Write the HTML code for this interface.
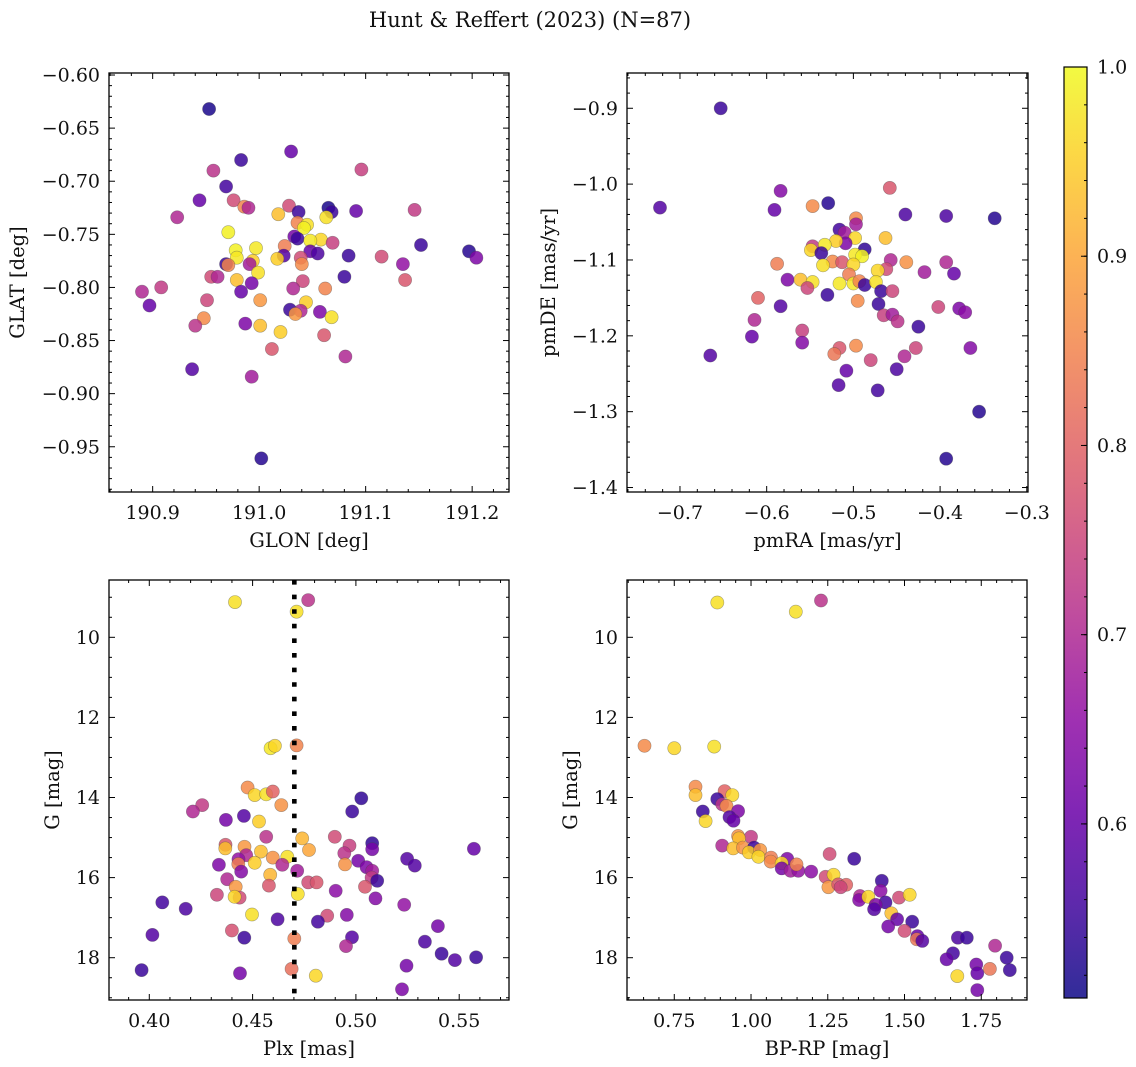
<!DOCTYPE html>
<html><head><meta charset="utf-8">
<style>
html,body{margin:0;padding:0;background:#fff;}
svg{display:block;font-family:"DejaVu Serif","Liberation Serif",serif;}
</style></head>
<body>
<svg id="fig" width="1136" height="1067" viewBox="0 0 1136 1067" xmlns="http://www.w3.org/2000/svg">
<rect width="1136" height="1067" fill="#fff"/>
<text x="530" y="27" text-anchor="middle" font-size="21" fill="#111">Hunt &amp; Reffert (2023) (N=87)</text>
<defs>
<linearGradient id="plasma" x1="0" y1="1" x2="0" y2="0"></linearGradient>
</defs>
</svg>
<script>
// ---------- data ----------
const glon = [190.953,191.030,190.983,190.957,191.096,190.969,190.944,190.976,190.986,190.990,191.028,191.037,191.065,191.068,191.091,191.146,190.923,191.018,191.063,191.036,191.045,191.042,190.971,191.033,191.036,191.058,191.048,191.069,191.024,190.978,190.997,191.152,191.197,191.204,191.084,191.048,191.055,191.023,191.017,191.039,191.040,191.115,191.135,190.979,190.994,190.969,190.971,190.991,190.999,190.955,190.961,190.979,190.993,191.041,191.080,191.137,190.890,190.908,190.983,191.032,191.062,190.897,190.951,191.001,191.044,191.029,191.039,191.034,191.057,191.068,190.948,190.940,190.987,191.001,191.020,191.012,191.061,191.081,190.937,190.993,191.002];
const glat = [-0.632,-0.672,-0.680,-0.690,-0.689,-0.705,-0.718,-0.718,-0.724,-0.725,-0.723,-0.729,-0.725,-0.729,-0.728,-0.727,-0.734,-0.731,-0.734,-0.739,-0.741,-0.744,-0.748,-0.752,-0.754,-0.755,-0.756,-0.758,-0.761,-0.765,-0.763,-0.760,-0.766,-0.772,-0.770,-0.766,-0.768,-0.770,-0.773,-0.772,-0.778,-0.771,-0.778,-0.772,-0.775,-0.778,-0.779,-0.778,-0.786,-0.790,-0.790,-0.793,-0.796,-0.794,-0.790,-0.793,-0.804,-0.800,-0.804,-0.801,-0.801,-0.817,-0.812,-0.812,-0.814,-0.821,-0.822,-0.825,-0.823,-0.828,-0.829,-0.836,-0.834,-0.836,-0.842,-0.858,-0.845,-0.865,-0.877,-0.884,-0.961];
const probSky = [0.52,0.60,0.55,0.72,0.74,0.56,0.60,0.76,0.85,0.70,0.76,0.55,0.52,0.55,0.60,0.73,0.70,0.93,0.97,0.85,0.97,0.99,0.99,0.62,0.55,0.96,0.98,0.74,0.84,0.99,0.98,0.55,0.53,0.63,0.55,0.60,0.57,0.58,0.95,0.76,0.86,0.76,0.66,0.98,0.95,0.55,0.85,0.68,0.97,0.76,0.70,0.93,0.62,0.75,0.55,0.78,0.70,0.73,0.60,0.70,0.85,0.60,0.75,0.88,0.95,0.55,0.70,0.88,0.63,0.97,0.86,0.72,0.63,0.93,0.95,0.78,0.78,0.70,0.58,0.68,0.53];

const pmra = [-0.653,-0.723,-0.584,-0.591,-0.547,-0.529,-0.458,-0.440,-0.393,-0.337,-0.497,-0.497,-0.516,-0.510,-0.498,-0.463,-0.509,-0.520,-0.547,-0.533,-0.549,-0.537,-0.487,-0.498,-0.490,-0.524,-0.513,-0.588,-0.535,-0.500,-0.457,-0.439,-0.393,-0.418,-0.384,-0.462,-0.472,-0.505,-0.576,-0.561,-0.547,-0.553,-0.516,-0.500,-0.493,-0.487,-0.474,-0.468,-0.455,-0.530,-0.495,-0.610,-0.584,-0.471,-0.402,-0.378,-0.371,-0.465,-0.455,-0.449,-0.614,-0.425,-0.617,-0.559,-0.559,-0.665,-0.516,-0.522,-0.497,-0.428,-0.365,-0.441,-0.480,-0.508,-0.450,-0.517,-0.472,-0.355,-0.393];
const pmde = [-0.900,-1.031,-1.009,-1.034,-1.029,-1.025,-1.005,-1.040,-1.042,-1.045,-1.045,-1.053,-1.060,-1.064,-1.071,-1.071,-1.078,-1.075,-1.082,-1.080,-1.087,-1.091,-1.086,-1.093,-1.095,-1.102,-1.103,-1.105,-1.107,-1.106,-1.100,-1.103,-1.103,-1.116,-1.118,-1.112,-1.114,-1.119,-1.126,-1.126,-1.129,-1.137,-1.131,-1.131,-1.128,-1.133,-1.129,-1.141,-1.141,-1.146,-1.154,-1.150,-1.161,-1.158,-1.162,-1.164,-1.169,-1.173,-1.172,-1.181,-1.179,-1.188,-1.201,-1.193,-1.209,-1.226,-1.216,-1.224,-1.213,-1.216,-1.216,-1.227,-1.232,-1.246,-1.244,-1.265,-1.272,-1.300,-1.362];
const probPm = [0.55,0.58,0.64,0.60,0.86,0.53,0.78,0.57,0.57,0.53,0.86,0.68,0.56,0.68,0.96,0.93,0.63,0.95,0.73,0.98,0.96,0.55,0.54,0.98,0.99,0.86,0.78,0.84,0.97,0.96,0.70,0.87,0.70,0.68,0.60,0.76,0.96,0.84,0.63,0.93,0.97,0.75,0.98,0.98,0.85,0.55,0.97,0.55,0.75,0.55,0.86,0.80,0.58,0.55,0.75,0.63,0.65,0.74,0.68,0.72,0.70,0.55,0.60,0.74,0.64,0.58,0.78,0.83,0.86,0.75,0.64,0.70,0.75,0.60,0.57,0.58,0.56,0.53,0.53];

const plx = [0.4415,0.4769,0.4713,0.4587,0.4608,0.4713,0.4476,0.4510,0.4566,0.4598,0.4639,0.5026,0.4982,0.4256,0.4211,0.4371,0.4458,0.4531,0.4566,0.4740,0.4773,0.4898,0.4969,0.5079,0.5079,0.4944,0.5571,0.4369,0.4368,0.4461,0.4540,0.4469,0.4598,0.4668,0.4432,0.4510,0.4431,0.4337,0.4644,0.4947,0.5011,0.5248,0.5285,0.4716,0.4445,0.5052,0.5079,0.5076,0.5103,0.4585,0.4377,0.4769,0.4810,0.4579,0.5044,0.4418,0.4719,0.4902,0.4327,0.4437,0.4413,0.5095,0.5234,0.4063,0.4176,0.4497,0.4861,0.4956,0.4621,0.4816,0.5397,0.4015,0.4400,0.4460,0.4702,0.4981,0.4952,0.5334,0.5415,0.5479,0.5582,0.5245,0.3963,0.4439,0.4689,0.4806,0.5223];
const gPlx = [9.12,9.07,9.36,12.77,12.71,12.70,13.75,13.94,13.92,13.85,14.19,14.02,14.35,14.19,14.35,14.56,14.46,14.60,14.98,15.02,15.31,14.98,15.20,15.14,15.29,15.39,15.28,15.18,15.27,15.23,15.35,15.44,15.50,15.48,15.54,15.63,15.66,15.68,15.68,15.67,15.58,15.53,15.70,15.83,15.85,15.74,15.83,16.00,16.08,15.93,16.04,16.12,16.12,16.20,16.23,16.23,16.41,16.33,16.43,16.50,16.48,16.52,16.68,16.62,16.78,16.92,16.95,16.93,17.04,17.10,17.21,17.43,17.32,17.50,17.52,17.49,17.71,17.60,17.90,18.06,17.99,18.20,18.31,18.39,18.28,18.45,18.79];
const probPlx = [0.97,0.72,0.97,0.98,0.96,0.85,0.86,0.96,0.97,0.80,0.87,0.54,0.55,0.73,0.70,0.62,0.58,0.95,0.72,0.92,0.90,0.76,0.74,0.54,0.62,0.72,0.60,0.78,0.93,0.88,0.93,0.70,0.87,0.97,0.66,0.95,0.84,0.63,0.70,0.87,0.62,0.58,0.58,0.68,0.64,0.63,0.68,0.73,0.55,0.92,0.70,0.76,0.78,0.78,0.78,0.88,0.97,0.65,0.75,0.76,0.96,0.64,0.66,0.56,0.57,0.97,0.76,0.64,0.57,0.56,0.62,0.58,0.77,0.55,0.84,0.58,0.70,0.57,0.55,0.58,0.55,0.62,0.55,0.62,0.82,0.96,0.63];
const plxRef = [0.4702];

const bprp = [0.890,1.146,1.228,0.653,0.750,0.880,0.819,0.819,0.914,0.939,0.890,0.906,0.920,0.843,0.958,0.930,0.943,0.852,0.958,1.000,0.961,0.906,0.942,0.974,1.010,0.993,1.030,1.024,1.065,1.064,1.118,1.100,1.100,1.129,1.154,1.148,1.196,1.256,1.336,1.243,1.269,1.252,1.284,1.310,1.292,1.426,1.422,1.355,1.352,1.382,1.482,1.517,1.438,1.406,1.401,1.457,1.476,1.447,1.525,1.500,1.542,1.540,1.558,1.674,1.703,1.658,1.637,1.795,1.833,1.734,1.737,1.672,1.778,1.843,1.737];
const gCmd = [9.13,9.36,9.08,12.71,12.77,12.73,13.73,13.94,13.84,13.94,14.04,14.17,14.21,14.35,14.34,14.49,14.58,14.59,14.96,14.98,15.02,15.20,15.27,15.25,15.25,15.37,15.31,15.48,15.50,15.60,15.53,15.64,15.77,15.83,15.83,15.67,15.85,15.41,15.53,15.98,15.93,16.24,16.17,16.18,16.24,16.08,16.33,16.46,16.56,16.48,16.50,16.43,16.62,16.68,16.79,16.89,17.04,17.22,17.10,17.33,17.46,17.54,17.58,17.50,17.50,17.89,18.04,17.70,18.00,18.17,18.39,18.46,18.28,18.31,18.81];
const probCmd = [0.97,0.97,0.72,0.86,0.96,0.97,0.86,0.93,0.80,0.96,0.55,0.72,0.86,0.55,0.63,0.58,0.60,0.96,0.87,0.73,0.93,0.70,0.93,0.87,0.55,0.95,0.88,0.96,0.84,0.86,0.63,0.96,0.62,0.68,0.66,0.85,0.65,0.76,0.55,0.76,0.96,0.88,0.78,0.80,0.75,0.55,0.65,0.70,0.64,0.96,0.76,0.96,0.56,0.63,0.58,0.93,0.60,0.62,0.55,0.76,0.60,0.83,0.58,0.57,0.55,0.56,0.60,0.70,0.55,0.62,0.60,0.96,0.83,0.55,0.62];

const cbarTicks = [0.6,0.7,0.8,0.9,1.0];
const probMin = 0.508, probMax = 1.0;

// ---------- helpers ----------
const NS = "http://www.w3.org/2000/svg";
const svg = document.getElementById('fig');
function mk(tag, attrs, parent){ const e=document.createElementNS(NS,tag); for(const k in attrs) e.setAttribute(k,attrs[k]); (parent||svg).appendChild(e); return e; }
const stops = [[0,13,8,135],[0.1,65,4,157],[0.2,106,0,168],[0.3,143,13,164],[0.4,177,42,144],[0.5,204,71,120],[0.6,225,100,98],[0.7,242,132,75],[0.8,252,166,54],[0.9,252,206,37],[1,240,249,33]];
function plasma(t){ t=Math.max(0,Math.min(1,t)); for(let i=1;i<stops.length;i++){ if(t<=stops[i][0]){ const a=stops[i-1],b=stops[i],f=(t-a[0])/(b[0]-a[0]); return `rgb(${Math.round(a[1]+f*(b[1]-a[1]))},${Math.round(a[2]+f*(b[2]-a[2]))},${Math.round(a[3]+f*(b[3]-a[3]))})`; } } return 'rgb(240,249,33)'; }
function pcol(p){ return plasma((p-probMin)/(probMax-probMin)); }
function fmt(v,d){ const s=Math.abs(v).toFixed(d); return (v< -1e-9?'\u2212':'')+s; }

const TICKFS = 19, LABFS = 19.5;

function panel(cfg){
  const {name,x0,x1,y0,y1,xd,yd,xMaj,xMin,yMaj,yMin,xDec,yDec,xlabel,ylabel,ylabX} = cfg;
  const sx = v => x0 + (v-xd[0])/(xd[1]-xd[0])*(x1-x0);
  const sy = v => y0 + (v-yd[0])/(yd[1]-yd[0])*(y1-y0);
  const g = mk('g',{});
  
  
  const clipId = name+'-clip';
  const cp = mk('clipPath',{id:clipId},g); mk('rect',{x:x0,y:y0,width:x1-x0,height:y1-y0},cp);
  const pts = mk('g',{'clip-path':`url(#${clipId})`},g);
  
  
  for(let i=0;i<cfg.xs.length;i++){
    const c = mk('circle',{cx:sx(cfg.xs[i]).toFixed(1),cy:sy(cfg.ys[i]).toFixed(1),r:6.6,fill:pcol(cfg.ps[i]),'fill-opacity':0.85,stroke:'#444','stroke-opacity':0.45,'stroke-width':0.6},pts);
    
    
  }
  if(cfg.vline){
    for(const v of cfg.vline){
      const l = mk('line',{x1:sx(v),x2:sx(v),y1:y0,y2:y1,stroke:'#000','stroke-width':4.6,'stroke-dasharray':'4.6 10'},g);
      
      
    }
  }
  const fr = mk('rect',{x:x0,y:y0,width:x1-x0,height:y1-y0,fill:'none',stroke:'#000','stroke-width':1.3},g);
  
  
  const lo=Math.min(xd[0],xd[1]),hi=Math.max(xd[0],xd[1]);
  const xt = mk('g',{},g);
  
  
  for(let k=Math.ceil(lo/xMin-1e-6);k*xMin<=hi+1e-9;k++){
    const v=k*xMin, X=sx(v), major=Math.abs(v/xMaj-Math.round(v/xMaj))<1e-6, L=major?6:3;
    mk('line',{x1:X,x2:X,y1:y1,y2:y1-L,stroke:'#000','stroke-width':1},xt);
    mk('line',{x1:X,x2:X,y1:y0,y2:y0+L,stroke:'#000','stroke-width':1},xt);
    if(major){ const t=mk('text',{x:X,y:y1+27,'text-anchor':'middle','font-size':TICKFS,fill:'#111'},xt); t.textContent=fmt(v,xDec); }
  }
  const ylo=Math.min(yd[0],yd[1]),yhi=Math.max(yd[0],yd[1]);
  const yt = mk('g',{},g);
  
  
  for(let k=Math.ceil(ylo/yMin-1e-6);k*yMin<=yhi+1e-9;k++){
    const v=k*yMin, Y=sy(v), major=Math.abs(v/yMaj-Math.round(v/yMaj))<1e-6, L=major?6:3;
    mk('line',{x1:x0,x2:x0+L,y1:Y,y2:Y,stroke:'#000','stroke-width':1},yt);
    mk('line',{x1:x1,x2:x1-L,y1:Y,y2:Y,stroke:'#000','stroke-width':1},yt);
    if(major){ const t=mk('text',{x:x0-9,y:Y+6.5,'text-anchor':'end','font-size':TICKFS,fill:'#111'},yt); t.textContent=fmt(v,yDec); }
  }
  const xl = mk('text',{x:(x0+x1)/2,y:y1+55,'text-anchor':'middle','font-size':LABFS,fill:'#111'},g);
  xl.textContent = xlabel;
  
  
  const cy=(y0+y1)/2;
  const yl = mk('text',{x:ylabX,y:cy,'text-anchor':'middle','font-size':LABFS,fill:'#111',transform:`rotate(-90 ${ylabX} ${cy})`},g);
  yl.textContent = ylabel;
  
  
}

panel({name:'sky-panel',x0:109,x1:509,y0:73,y1:492,xd:[190.859,191.2346],yd:[-0.5981,-0.9926],xMaj:0.1,xMin:0.02,yMaj:0.05,yMin:0.01,xDec:1,yDec:2,xs:glon,ys:glat,ps:probSky,xlabel:'GLON [deg]',ylabel:'GLAT [deg]',ylabX:24});
panel({name:'pm-panel',x0:627,x1:1028,y0:73,y1:492,xd:[-0.7611,-0.2986],yd:[-0.8535,-1.4059],xMaj:0.1,xMin:0.02,yMaj:0.1,yMin:0.02,xDec:1,yDec:1,xs:pmra,ys:pmde,ps:probPm,xlabel:'pmRA [mas/yr]',ylabel:'pmDE [mas/yr]',ylabX:555});
panel({name:'plx-panel',x0:109,x1:509,y0:580,y1:1000,xd:[0.3805,0.5741],yd:[8.569,19.056],xMaj:0.05,xMin:0.01,yMaj:2,yMin:0.5,xDec:2,yDec:0,xs:plx,ys:gPlx,ps:probPlx,vline:plxRef,xlabel:'Plx [mas]',ylabel:'G [mag]',ylabX:59});
panel({name:'cmd-panel',x0:627,x1:1027,y0:580,y1:1000,xd:[0.596,1.899],yd:[8.569,19.056],xMaj:0.25,xMin:0.05,yMaj:2,yMin:0.5,xDec:2,yDec:0,xs:bprp,ys:gCmd,ps:probCmd,xlabel:'BP-RP [mag]',ylabel:'G [mag]',ylabX:577});

// ---------- colorbar ----------
const grad = document.getElementById('plasma');
for(let i=0;i<=20;i++){ const t=i/20; mk('stop',{offset:t,'stop-color':plasma(t)},grad); }
const cb = mk('g',{});


const cbx0=1064, cbx1=1087, cby0=67, cby1=998;
const cbY = v => cby1 - (v-probMin)/(probMax-probMin)*(cby1-cby0);
mk('rect',{x:cbx0,y:cby0,width:cbx1-cbx0,height:cby1-cby0,fill:'url(#plasma)','fill-opacity':0.85},cb);
mk('rect',{x:cbx0,y:cby0,width:cbx1-cbx0,height:cby1-cby0,fill:'none',stroke:'#000','stroke-width':1.2},cb);
for(let k=Math.ceil(probMin/0.02);k*0.02<=probMax+1e-9;k++){
  const v=k*0.02, Y=cbY(v);
  mk('line',{x1:cbx1,x2:cbx1-3,y1:Y,y2:Y,stroke:'#000','stroke-width':1},cb);
}
for(const v of cbarTicks){
  const Y=cbY(v);
  mk('line',{x1:cbx1,x2:cbx1-6,y1:Y,y2:Y,stroke:'#000','stroke-width':1},cb);
  const t=mk('text',{x:cbx1+10,y:Y+6.5,'font-size':TICKFS,fill:'#111'},cb);
  t.textContent=v.toFixed(1);
  
  
}
</script>
</body></html>
